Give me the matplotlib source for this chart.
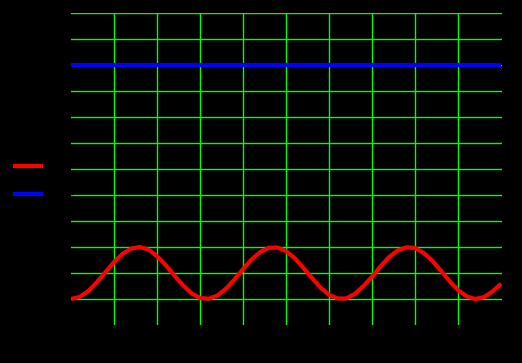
import matplotlib
matplotlib.use("Agg")
import matplotlib.pyplot as plt
from matplotlib.lines import Line2D

# Data
x_vals = [0.0, 0.2, 0.4, 0.6, 0.8, 1.0, 1.2, 1.4, 1.6, 1.8,
          2.0, 2.2, 2.4, 2.6, 2.8, 3.0, 3.2, 3.4, 3.6, 3.8,
          4.0, 4.2, 4.4, 4.6, 4.8, 5.0, 5.2, 5.4, 5.6, 5.8,
          6.0, 6.2, 6.4, 6.6, 6.8, 7.0, 7.2, 7.4, 7.6, 7.8,
          8.0, 8.2, 8.4, 8.6, 8.8, 9.0, 9.2, 9.4, 9.6, 9.8, 10.0]
red_vals = [1.00, 1.08, 1.30, 1.64, 2.03, 2.42, 2.74, 2.94, 3.00, 2.90,
            2.65, 2.31, 1.91, 1.53, 1.22, 1.04, 1.01, 1.13, 1.39, 1.75,
            2.15, 2.52, 2.81, 2.97, 2.98, 2.84, 2.57, 2.20, 1.81, 1.44,
            1.16, 1.02, 1.02, 1.20, 1.50, 1.86, 2.26, 2.62, 2.87, 2.99,
            2.96, 2.77, 2.47, 2.09, 1.69, 1.34, 1.10, 1.00, 1.07, 1.29, 1.59]
blue_vals = [10.0] * len(x_vals)
series_labels = ["red", "blue"]
x_ticks = [1, 2, 3, 4, 5, 6, 7, 8, 9]
y_ticks = [1, 2, 3, 4, 5, 6, 7, 8, 9, 10, 11, 12]

W, H = 522, 363
fig = plt.figure(figsize=(W / 100, H / 100), dpi=100, facecolor="black")
ax = fig.add_axes([71 / W, 1 - 325 / H, (502 - 71) / W, (325 - 13) / H])
ax.set_facecolor("black")

ax.plot(x_vals, red_vals, color="#ff0000", lw=3, solid_capstyle="butt", zorder=3)
ax.plot(x_vals, blue_vals, color="#0000ff", lw=3, solid_capstyle="butt", zorder=3)

ax.set_xlim(0, 10.02)
ax.set_ylim(0, 12)
ax.set_xticks(x_ticks)
ax.set_yticks(y_ticks)
ax.tick_params(length=0, labelleft=False, labelbottom=False)
ax.grid(True, color="#00ff00", lw=1)
ax.set_axisbelow(True)
for s in ax.spines.values():
    s.set_visible(False)

handles = [Line2D([], [], color="#ff0000", lw=3),
           Line2D([], [], color="#0000ff", lw=3)]
fig.legend(handles, series_labels, loc="upper left",
           bbox_to_anchor=(2 / W, 1 - 147 / H), frameon=False,
           labelcolor="black", handlelength=1.9, handletextpad=0.3,
           labelspacing=1.05, fontsize=10)

fig.savefig("out.png", dpi=100, facecolor="black")
